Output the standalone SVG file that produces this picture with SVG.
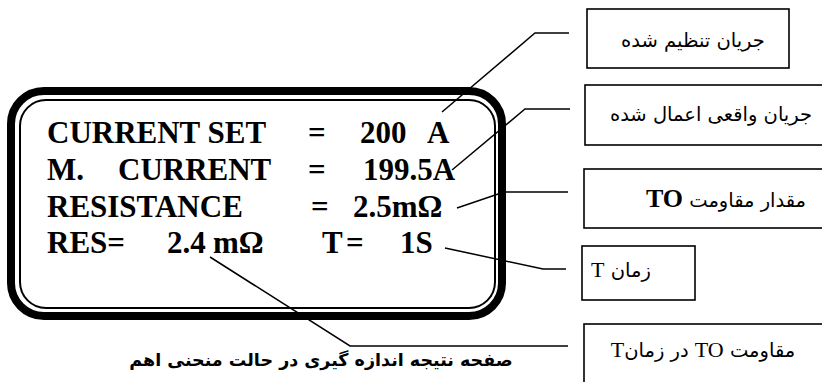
<svg xmlns="http://www.w3.org/2000/svg" width="822" height="382" viewBox="0 0 822 382">
<style>
.lcd{font-family:"Liberation Serif","Times New Roman",serif;font-weight:bold;font-size:31px;fill:#000}
.fa{font-family:"DejaVu Sans","Noto Sans",sans-serif;font-size:19.5px;fill:#000}
.lat{font-family:"Liberation Serif","Times New Roman",serif}
.box{fill:#fff;stroke:#000;stroke-width:1.6}
.con{fill:none;stroke:#000;stroke-width:1.5}
</style>
<rect x="0" y="0" width="822" height="382" fill="#fff"/>
<g id="display">
<rect x="11" y="91" width="491" height="225" rx="33" ry="33" fill="none" stroke="#000" stroke-width="8"/>
<rect x="20" y="100" width="475" height="208" rx="26" ry="26" fill="none" stroke="#000" stroke-width="2"/>
<text class="lcd" y="143"><tspan x="47">CURRENT SET</tspan><tspan x="308">=</tspan><tspan x="360">200</tspan><tspan x="427">A</tspan></text>
<text class="lcd" y="180"><tspan x="47">M.</tspan><tspan x="118">CURRENT</tspan><tspan x="308">=</tspan><tspan x="363">199.5A</tspan></text>
<text class="lcd" y="217"><tspan x="47">RESISTANCE</tspan><tspan x="311">=</tspan><tspan x="353">2.5mΩ</tspan></text>
<text class="lcd" y="253"><tspan x="47">RES=</tspan><tspan x="167">2.4</tspan><tspan x="213">mΩ</tspan><tspan x="322">T</tspan><tspan x="346">=</tspan><tspan x="400">1S</tspan></text>
</g>
<g id="connectors">
<polyline class="con" points="442,112 535,33 569,33"/>
<polyline class="con" points="452,170 525,109 570,109"/>
<polyline class="con" points="457,208 504,192 568,192"/>
<polyline class="con" points="445,248 543,269 566,269"/>
<polyline class="con" points="210,257 350,346 568,346"/>
</g>
<g id="label-set-current">
<rect class="box" x="587" y="9" width="202" height="59"/>
<text class="fa" x="693" y="47" direction="rtl" text-anchor="middle">جريان تنظيم شده</text>
</g>
<g id="label-measured-current">
<rect class="box" x="585" y="85" width="260" height="60"/>
<text class="fa" x="711" y="121" direction="rtl" text-anchor="middle">جريان واقعی اعمال شده</text>
</g>
<g id="label-resistance">
<rect class="box" x="584" y="169" width="260" height="59"/>
<text class="fa" x="726" y="207" direction="rtl" text-anchor="middle">مقدار مقاومت <tspan class="lat" font-weight="bold" font-size="26">TO</tspan></text>
</g>
<g id="label-time">
<rect class="box" x="582" y="246" width="113" height="54"/>
<text class="fa" x="621" y="277" direction="rtl" text-anchor="middle">زمان <tspan class="lat" font-size="22">T</tspan></text>
</g>
<g id="label-res-at-time">
<rect class="box" x="584" y="324" width="260" height="80"/>
<text class="fa" x="703" y="357" direction="rtl" text-anchor="middle">مقاومت <tspan class="lat" font-size="22">TO</tspan> در زمان<tspan class="lat" font-size="22">T</tspan></text>
</g>
<g id="caption">
<text x="321" y="366" direction="rtl" text-anchor="middle" style="font-family:'DejaVu Sans','Noto Sans',sans-serif;font-weight:bold;font-size:17.5px">صفحه نتیجه اندازه گیری در حالت منحنی اهم</text>
</g>
</svg>
